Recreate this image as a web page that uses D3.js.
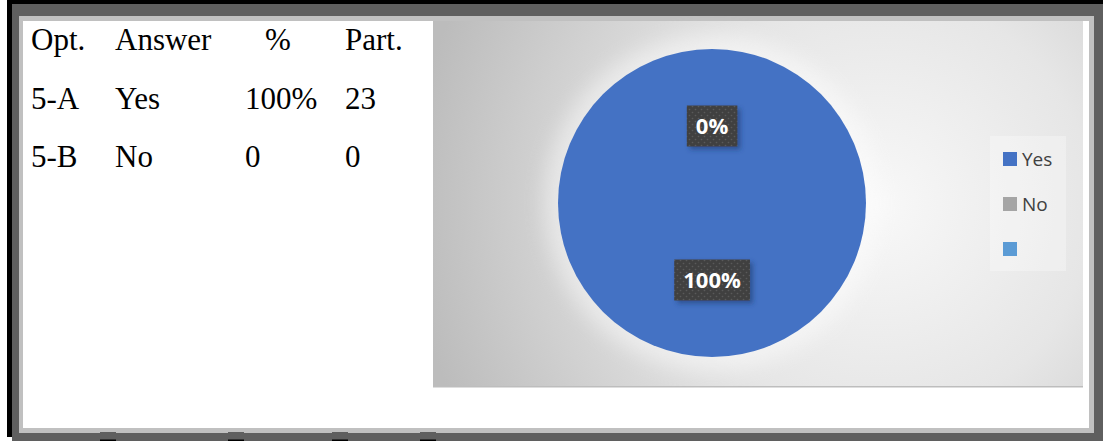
<!DOCTYPE html>
<html>
<head>
<meta charset="utf-8">
<script src="https://cdn.jsdelivr.net/npm/d3@7"></script>
<style>
  html, body { margin: 0; padding: 0; background: #ffffff; }
  svg { display: block; }
</style>
</head>
<body>
<div id="chart"></div>
<script>
// Question 5 summary table
const tableHeader = ["Opt.", "Answer", "%", "Part."];
const optCodes = ["5-A", "5-B"];
const answers = ["Yes", "No"];
const percents = ["100%", "0"];
const participants = [23, 0];

// Pie series (third category is an empty legend entry)
const categories = ["Yes", "No", ""];
const values = [23, 0, 0];
const colors = ["#4472C4", "#A5A5A5", "#5B9BD5"];

const W = 1103, H = 441;
const svg = d3.select("#chart").append("svg")
  .attr("width", W).attr("height", H)
  .attr("viewBox", `0 0 ${W} ${H}`);

const defs = svg.append("defs");

// --- page frame (shadowed box border) ---
const frame = svg.append("g");
const dark = "#5f5f5f", light = "#c0c0c0";
[
  [7, 0, W - 7, 4, "#000"],
  [7, 0, 5, 437, "#000"],
  [12, 4, W - 12, 12, dark],
  [12, 4, 7, H - 4, dark],
  [1094, 4, 9, H - 4, dark],
  [12, 433, W - 12, 8, dark],
  [19, 16, 1075, 5, light],
  [19, 16, 4, 417, light],
  [1089, 16, 5, 417, light],
  [19, 428, 1075, 5, light]
].forEach(([x, y, w, h, c]) =>
  frame.append("rect").attr("x", x).attr("y", y).attr("width", w).attr("height", h).attr("fill", c));

// small tabs along the bottom edge
const tabs = [100, 228, 332, 420];
tabs.forEach(x => {
  frame.append("rect").attr("x", x).attr("y", 432).attr("width", 16).attr("height", 9).attr("fill", dark);
  frame.append("rect").attr("x", x).attr("y", 439.5).attr("width", 16).attr("height", 1.5).attr("fill", "#000");
});

// --- table ---
const table = svg.append("g")
  .attr("font-family", "'Liberation Serif', 'Times New Roman', serif")
  .attr("font-size", 31)
  .attr("fill", "#000");
const colX = [31, 115, 245, 345];
const rowY = d3.scalePoint().domain([0, 1, 2]).range([50, 167]);

table.selectAll("text.head").data(tableHeader).join("text")
  .attr("class", "head")
  .attr("x", (d, i) => i === 2 ? 278 : colX[i])
  .attr("text-anchor", (d, i) => i === 2 ? "middle" : "start")
  .attr("y", rowY(0))
  .text(d => d);

const rows = optCodes.map((o, i) => [o, answers[i], percents[i], String(participants[i])]);
rows.forEach((r, ri) => {
  table.selectAll(null).data(r).join("text")
    .attr("x", (d, i) => colX[i])
    .attr("y", rowY(ri + 1))
    .text(d => d);
});

// --- chart area ---
const plot = { x: 433, y: 21, w: 650, h: 366 };

const bg = defs.append("radialGradient")
  .attr("id", "plotBg")
  .attr("gradientUnits", "userSpaceOnUse")
  .attr("cx", 880).attr("cy", 205).attr("r", 470);
bg.append("stop").attr("offset", 0).attr("stop-color", "#f8f8f8");
bg.append("stop").attr("offset", 0.45).attr("stop-color", "#e6e6e6");
bg.append("stop").attr("offset", 1).attr("stop-color", "#bcbcbc");

svg.append("rect")
  .attr("x", plot.x).attr("y", plot.y).attr("width", plot.w).attr("height", plot.h)
  .attr("fill", "url(#plotBg)");
svg.append("rect")
  .attr("x", plot.x).attr("y", plot.y + plot.h - 1).attr("width", plot.w).attr("height", 1.5)
  .attr("fill", "#bdbdbd");

// soft glow behind the pie
const glow = defs.append("filter").attr("id", "glow")
  .attr("x", "-30%").attr("y", "-30%").attr("width", "160%").attr("height", "160%");
glow.append("feGaussianBlur").attr("stdDeviation", 10);

const cx = 712, cy = 203, R = 154;
svg.append("circle").attr("cx", cx).attr("cy", cy).attr("r", R + 14)
  .attr("fill", "#ffffff").attr("opacity", 0.45).attr("filter", "url(#glow)");

const pie = d3.pie().sort(null).value(d => d.v);
const arcs = pie(categories.map((c, i) => ({ c, v: values[i], i })));
const arc = d3.arc().innerRadius(0).outerRadius(R);

const gPie = svg.append("g").attr("transform", `translate(${cx},${cy})`);
gPie.selectAll("path").data(arcs).join("path")
  .attr("d", arc)
  .attr("fill", d => colors[d.data.i]);

// data labels: dark dotted callouts with a soft shadow
const dots = defs.append("pattern").attr("id", "dots")
  .attr("patternUnits", "userSpaceOnUse").attr("width", 6).attr("height", 6);
dots.append("rect").attr("width", 6).attr("height", 6).attr("fill", "#404040");
dots.append("circle").attr("cx", 1.5).attr("cy", 1.5).attr("r", 0.8).attr("fill", "#5a5a5a");
dots.append("circle").attr("cx", 4.5).attr("cy", 4.5).attr("r", 0.8).attr("fill", "#5a5a5a");

const shadow = defs.append("filter").attr("id", "lblShadow")
  .attr("x", "-30%").attr("y", "-30%").attr("width", "170%").attr("height", "170%");
shadow.append("feDropShadow").attr("dx", 3).attr("dy", 3).attr("stdDeviation", 2.5)
  .attr("flood-color", "#1f3a70").attr("flood-opacity", 0.6);

const total = d3.sum(values);
const fmt = d3.format(".0%");
const labelled = arcs.filter(d => d.data.c !== "");
const lbl = gPie.selectAll("g.lbl").data(labelled).join("g")
  .attr("class", "lbl")
  .attr("transform", d => {
    const mid = (d.startAngle + d.endAngle) / 2;
    const r = R * 0.5;
    return `translate(${Math.sin(mid) * r},${-Math.cos(mid) * r})`;
  });
lbl.append("rect").attr("fill", "url(#dots)").attr("filter", "url(#lblShadow)");
const lblText = lbl.append("text")
  .attr("text-anchor", "middle")
  .attr("dy", "0.36em")
  .attr("font-family", "'Open Sans', 'Noto Sans', sans-serif")
  .attr("font-weight", "bold")
  .attr("font-size", 22)
  .attr("fill", "#ffffff")
  .text(d => fmt(d.data.v / total));
lblText.each(function () {
  const b = this.getBBox();
  const padX = 9;
  d3.select(this.parentNode).select("rect")
    .attr("x", b.x - padX).attr("y", -20.5)
    .attr("width", b.width + padX * 2).attr("height", 41);
});

// --- legend ---
const leg = svg.append("g");
leg.append("rect").attr("x", 990).attr("y", 136).attr("width", 76).attr("height", 135)
  .attr("fill", "#ffffff").attr("opacity", 0.3);
const legY = d3.scalePoint().domain(categories.map((c, i) => i)).range([159, 249]);
const item = leg.selectAll("g.item").data(categories).join("g")
  .attr("class", "item")
  .attr("transform", (d, i) => `translate(1003,${legY(i)})`);
item.append("rect").attr("x", 0).attr("y", -7).attr("width", 14).attr("height", 14)
  .attr("fill", (d, i) => colors[i]);
item.append("text")
  .attr("x", 19).attr("y", 0).attr("dy", "0.35em")
  .attr("font-family", "'Open Sans', 'Noto Sans', sans-serif")
  .attr("font-size", 19)
  .attr("fill", "#404040")
  .text(d => d);
</script>
</body>
</html>
